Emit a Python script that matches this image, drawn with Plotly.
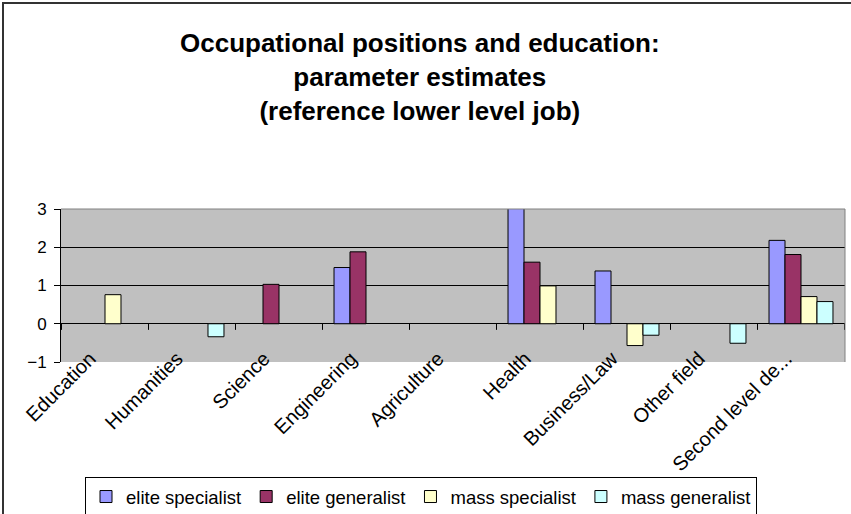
import plotly.graph_objects as go

categories = ["Education", "Humanities", "Science", "Engineering", "Agriculture",
              "Health", "Business/Law", "Other field", "Second level de..."]
elite_specialist = [None, None, None, 1.47, None, 3.4, 1.38, None, 2.18]
elite_generalist = [None, None, 1.03, 1.88, None, 1.61, None, None, 1.81]
mass_specialist = [0.76, None, None, None, None, 0.99, -0.57, None, 0.71]
mass_generalist = [None, -0.34, None, None, None, None, -0.30, -0.51, 0.58]

series = [
    ("elite specialist", elite_specialist, "#9999FF"),
    ("elite generalist", elite_generalist, "#993366"),
    ("mass specialist", mass_specialist, "#FFFFCC"),
    ("mass generalist", mass_generalist, "#CCFFFF"),
]

FONT = "Arial, Liberation Sans, sans-serif"

fig = go.Figure()
for name, vals, col in series:
    fig.add_trace(go.Bar(x=categories, y=vals, name=name, marker_color=col,
                         marker_line_color="black", marker_line_width=1))

W, H = 851, 514
L, R, T, B = 61, 6, 209, 152
pw, ph = W - L - R, H - T - B


def px_x(x):
    return (x - L) / pw


def px_y(y):
    return (H - B - y) / ph


shapes = []
# tick marks on the zero line at category boundaries
for i in range(len(categories) + 1):
    shapes.append(dict(type="line", xref="x", yref="y", x0=i - 0.5, x1=i - 0.5,
                       y0=0, y1=-0.16, line=dict(color="black", width=1)))
# top / right border of plot area
shapes.append(dict(type="line", xref="paper", yref="paper", x0=1, x1=1, y0=0, y1=1,
                   line=dict(color="#808080", width=1)))
shapes.append(dict(type="line", xref="paper", yref="paper", x0=0, x1=1, y0=1, y1=1,
                   line=dict(color="#808080", width=1)))
# chart-area border (top and left visible)
shapes.append(dict(type="rect", xref="paper", yref="paper",
                   x0=px_x(3), x1=1.3, y0=-2.0, y1=px_y(3),
                   line=dict(color="#333333", width=2)))

fig.update_layout(
    width=W, height=H,
    margin=dict(l=L, r=R, t=T, b=B, pad=0, autoexpand=False),
    paper_bgcolor="white",
    plot_bgcolor="#C0C0C0",
    font=dict(family=FONT, color="black"),
    annotations=[dict(
        text="<b>Occupational positions and education:<br>parameter estimates<br>(reference lower level job)</b>",
        xref="paper", yref="paper", x=px_x(420), y=px_y(77),
        xanchor="center", yanchor="middle", showarrow=False, align="center",
        font=dict(size=26, family=FONT, color="black"))],
    barmode="group",
    bargap=0.265,
    bargroupgap=0,
    showlegend=True,
    legend=dict(orientation="h", x=px_x(421), xanchor="center",
                y=px_y(477), yanchor="top",
                bordercolor="black", borderwidth=1,
                font=dict(size=18.5), itemwidth=30, tracegroupgap=0),
    shapes=shapes,
    xaxis=dict(tickangle=-45, tickfont=dict(size=20), showgrid=False,
               ticks="", showline=False, zeroline=False,
               ticklabelshift=-15, ticklabelstandoff=-20),
    yaxis=dict(range=[-1, 3], dtick=1, tickfont=dict(size=17),
               showgrid=True, gridcolor="black", gridwidth=1,
               zeroline=True, zerolinecolor="black", zerolinewidth=1,
               showline=True, linecolor="black", linewidth=1,
               ticks="outside", ticklen=6, tickcolor="black",
               ticklabelstandoff=4),
)

fig.write_html("out.html", config={"displayModeBar": False},
               post_script="document.body.style.margin='0';document.body.style.padding='0';")
